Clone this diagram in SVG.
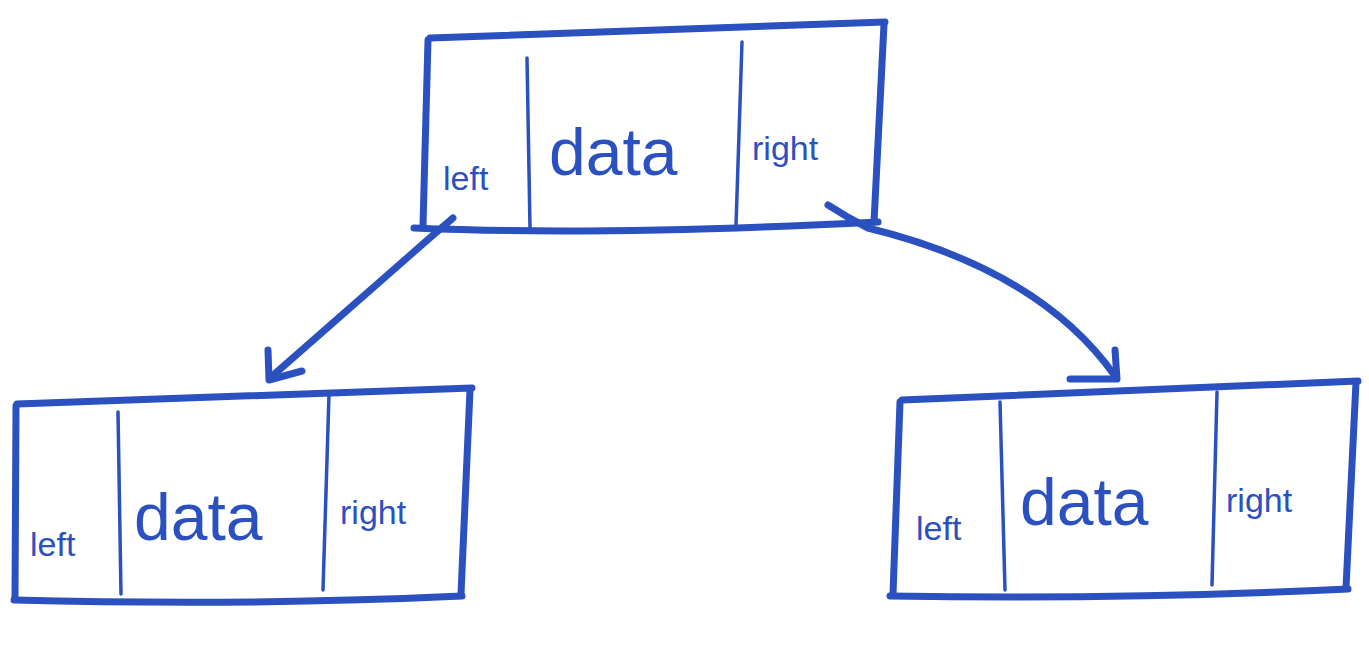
<svg xmlns="http://www.w3.org/2000/svg" width="1369" height="655" viewBox="0 0 1369 655">
<defs>
<style>
.s{fill:none;stroke:#2b50bf;stroke-width:7;stroke-linecap:round;stroke-linejoin:round}
.d{fill:none;stroke:#2b50bf;stroke-width:3.5;stroke-linecap:round}
.sm{font-family:"Liberation Sans",Arial,sans-serif;font-size:34px;fill:#2b50bf}
.lg{font-family:"Liberation Sans",Arial,sans-serif;font-size:66px;fill:#2b50bf}
</style>
</defs>
<rect width="1369" height="655" fill="#ffffff"/>
<g id="node-top">
<path class="s" d="M430 38 L885 22"/>
<path class="s" d="M428 40 L423 225"/>
<path class="s" d="M884 24 L874 222"/>
<path class="s" d="M414 228 Q600 236 878 222"/>
<path class="d" d="M527 58 L530 228"/>
<path class="d" d="M742 42 L736 225"/>
<text class="sm" x="443" y="190">left</text>
<text class="lg" x="549" y="175">data</text>
<text class="sm" x="752" y="160">right</text>
</g>
<g id="node-left">
<path class="s" d="M17 404 L472 388"/>
<path class="s" d="M16 406 L15 598"/>
<path class="s" d="M470 390 L461 594"/>
<path class="s" d="M14 600 Q250 606 462 596"/>
<path class="d" d="M118 412 L121 594"/>
<path class="d" d="M329 394 L323 590"/>
<text class="sm" x="30" y="556">left</text>
<text class="lg" x="134" y="540">data</text>
<text class="sm" x="340" y="524">right</text>
</g>
<g id="node-right">
<path class="s" d="M902 400 L1358 381"/>
<path class="s" d="M900 402 L893 594"/>
<path class="s" d="M1356 382 L1346 588"/>
<path class="s" d="M890 596 Q1120 600 1348 589"/>
<path class="d" d="M1000 402 L1005 590"/>
<path class="d" d="M1217 392 L1212 585"/>
<text class="sm" x="916" y="540">left</text>
<text class="lg" x="1020" y="525">data</text>
<text class="sm" x="1226" y="512">right</text>
</g>
<g id="connectors">
<path class="s" d="M453 218 L432 236 L270 378"/>
<path class="s" d="M268 350 L269 380 L302 371"/>
<path class="s" d="M828 205 Q848 218 868 228 Q1040 270 1115 376"/>
<path class="s" d="M1115 350 L1117 379 L1070 379"/>
</g>
</svg>
